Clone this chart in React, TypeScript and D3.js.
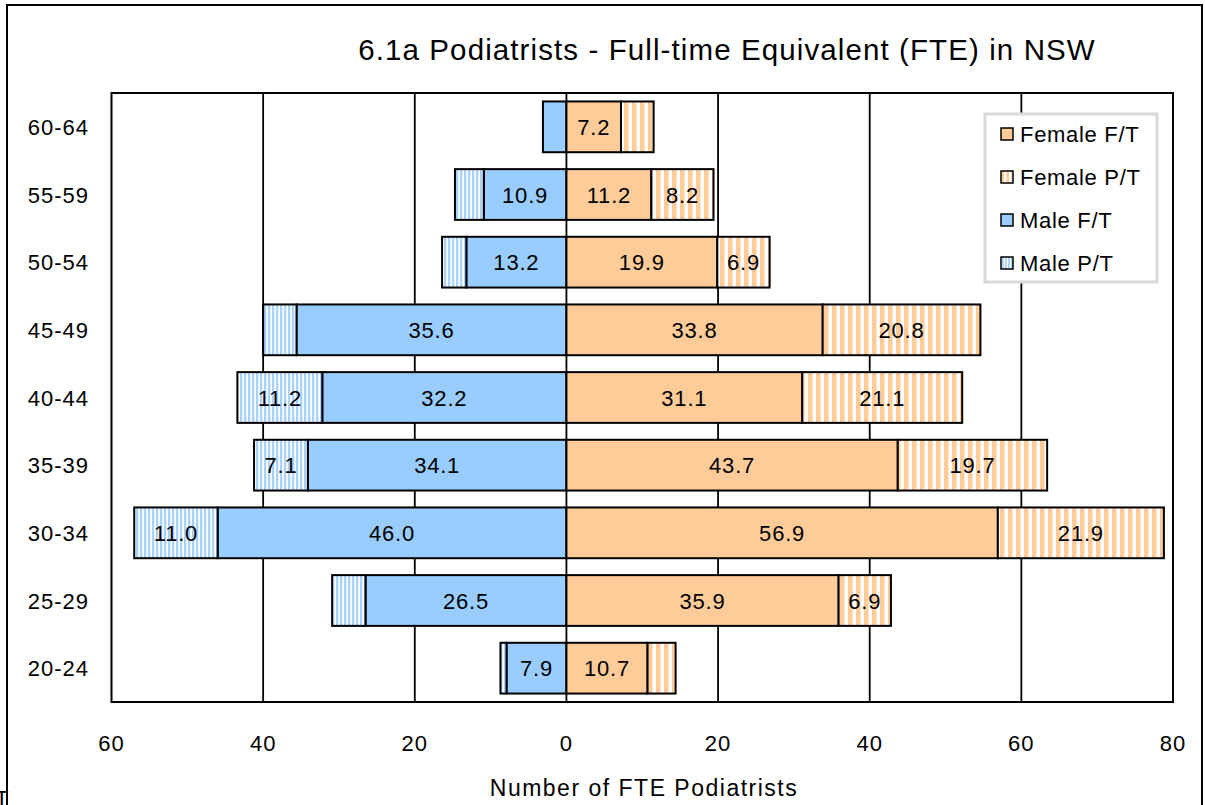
import React from 'react';
import * as d3 from 'd3';

const ageGroups = ['60-64', '55-59', '50-54', '45-49', '40-44', '35-39', '30-34', '25-29', '20-24'];
const maleFT = [3.1, 10.9, 13.2, 35.6, 32.2, 34.1, 46.0, 26.5, 7.9];
const malePT = [0, 3.8, 3.2, 4.4, 11.2, 7.1, 11.0, 4.4, 0.8];
const femaleFT = [7.2, 11.2, 19.9, 33.8, 31.1, 43.7, 56.9, 35.9, 10.7];
const femalePT = [4.3, 8.2, 6.9, 20.8, 21.1, 19.7, 21.9, 6.9, 3.7];
const xTicks = [-60, -40, -20, 0, 20, 40, 60, 80];
const legendItems = ['Female F/T', 'Female P/T', 'Male F/T', 'Male P/T'];

const W = 1205;
const H = 805;
const font = '"Liberation Sans", Arial, sans-serif';
const peach = '#FFCC99';
const blue = '#99CCFF';

const plot = { left: 111.5, right: 1173, top: 93, bottom: 702 };

const App = () => {
  const x = d3.scaleLinear().domain([-60, 80]).range([plot.left, plot.right]);
  const y = d3
    .scaleBand()
    .domain(ageGroups)
    .range([plot.top, plot.bottom])
    .paddingInner(0.25)
    .paddingOuter(0.125);

  // segments of each stacked bar, male to the left of zero
  const segments = ageGroups.flatMap((g, i) => [
    { g, x0: 0, x1: -maleFT[i], v: maleFT[i], fill: blue },
    { g, x0: -maleFT[i], x1: -maleFT[i] - malePT[i], v: malePT[i], fill: 'url(#malePT)' },
    { g, x0: 0, x1: femaleFT[i], v: femaleFT[i], fill: peach },
    { g, x0: femaleFT[i], x1: femaleFT[i] + femalePT[i], v: femalePT[i], fill: 'url(#femalePT)' },
  ]);

  const legendFills = [peach, 'url(#femalePTs)', blue, 'url(#malePTs)'];

  return (
    <svg
      width={W}
      height={H}
      style={{ position: 'absolute', left: 0, top: 0, background: '#fff' }}
      fontFamily={font}
    >
      <defs>
        <pattern id="femalePT" patternUnits="userSpaceOnUse" width={8} height={10}>
          <rect width={8} height={10} fill="#fff" />
          <rect x={0} width={4.5} height={10} fill={peach} />
        </pattern>
        <pattern id="malePT" patternUnits="userSpaceOnUse" width={4} height={10}>
          <rect width={4} height={10} fill="#fff" />
          <rect x={0} width={2.3} height={10} fill="#A9D3FF" />
        </pattern>
        <pattern id="femalePTs" patternUnits="userSpaceOnUse" width={5} height={10}>
          <rect width={5} height={10} fill="#fff" />
          <rect x={1.5} width={2.5} height={10} fill={peach} />
        </pattern>
        <pattern id="malePTs" patternUnits="userSpaceOnUse" width={3} height={10}>
          <rect width={3} height={10} fill="#fff" />
          <rect x={0} width={1.8} height={10} fill="#A9D3FF" />
        </pattern>
      </defs>

      <rect x={0} y={0} width={W} height={H} fill="#fff" />
      {/* outer chart border */}
      <rect x={7} y={5} width={1195} height={820} fill="none" stroke="#000" strokeWidth={2} />
      <text x={-5} y={806} fontSize={22} fill="#000">T</text>

      <text x={727} y={60} textAnchor="middle" fontSize={29.5} letterSpacing={1.1} fill="#000">
        6.1a Podiatrists - Full-time Equivalent (FTE) in NSW
      </text>

      {/* gridlines */}
      {xTicks.slice(1, -1).map((t) => (
        <line key={t} x1={x(t)} x2={x(t)} y1={plot.top} y2={plot.bottom} stroke="#000" strokeWidth={1.8} />
      ))}

      {/* bars */}
      {segments
        .filter((s) => s.v > 0)
        .map((s, i) => (
          <rect
            key={i}
            x={x(Math.min(s.x0, s.x1))}
            y={y(s.g)}
            width={Math.abs(x(s.x1) - x(s.x0))}
            height={y.bandwidth()}
            fill={s.fill}
            stroke="#000"
            strokeWidth={2}
          />
        ))}

      {/* value labels */}
      {segments
        .filter((s) => s.v >= 5)
        .map((s, i) => (
          <text
            key={i}
            x={x((s.x0 + s.x1) / 2)}
            y={y(s.g) + y.bandwidth() / 2 + 8}
            textAnchor="middle"
            fontSize={22}
            letterSpacing={0.8}
            fill="#000"
          >
            {s.v.toFixed(1)}
          </text>
        ))}

      {/* plot frame */}
      <rect
        x={plot.left}
        y={plot.top}
        width={plot.right - plot.left}
        height={plot.bottom - plot.top}
        fill="none"
        stroke="#000"
        strokeWidth={2}
      />

      {/* category labels */}
      {ageGroups.map((g) => (
        <text key={g} x={89} y={y(g) + y.bandwidth() / 2 + 8} textAnchor="end" fontSize={22} letterSpacing={1} fill="#000">
          {g}
        </text>
      ))}

      {/* x tick labels */}
      {xTicks.map((t) => (
        <text key={t} x={x(t)} y={751} textAnchor="middle" fontSize={22} letterSpacing={1} fill="#000">
          {Math.abs(t)}
        </text>
      ))}

      <text x={644} y={796} textAnchor="middle" fontSize={23} letterSpacing={1.5} fill="#000">
        Number of FTE Podiatrists
      </text>

      {/* legend */}
      <rect x={985} y={114} width={172} height={168} fill="#fff" stroke="#D9D9D9" strokeWidth={3} />
      {legendItems.map((name, i) => {
        const cy = 134 + i * 43;
        return (
          <g key={name}>
            <rect x={1001} y={cy - 6} width={12} height={12} fill={legendFills[i]} stroke="#000" strokeWidth={1.5} />
            <text x={1020} y={cy + 8} fontSize={22} letterSpacing={0.7} fill="#000">
              {name}
            </text>
          </g>
        );
      })}
    </svg>
  );
};

export default App;
